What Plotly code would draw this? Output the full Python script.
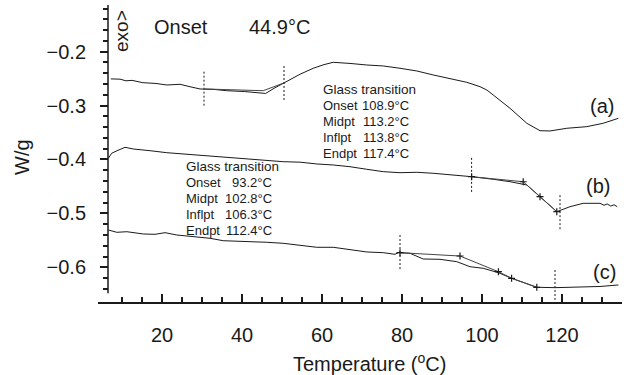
import plotly.graph_objects as go

# DSC heat-flow curves (W/g) vs temperature (°C)
t_a = [7.2, 9.5, 11.0, 12.5, 15.2, 18.5, 21.2, 24.5, 27.0, 29.5, 33.0, 36.2, 40.7, 43.5,
       45.9, 48.0, 50.7, 54.5, 57.8, 60.5, 62.8, 65.0, 67.0, 71.2, 75.3, 79.5, 83.7, 87.8,
       92.0, 96.2, 99.5, 101.2, 102.8, 105.3, 107.0, 111.2, 114.5, 117.0, 121.2, 126.2,
       130.3, 134.1]
w_a = [-0.2505, -0.2510, -0.2540, -0.2532, -0.2575, -0.2590, -0.2618, -0.2605, -0.2650,
       -0.2692, -0.2700, -0.2724, -0.2740, -0.2755, -0.2775, -0.2680, -0.2575, -0.2419,
       -0.2308, -0.2240, -0.2197, -0.2205, -0.2218, -0.2247, -0.2265, -0.2308, -0.2358,
       -0.2432, -0.2494, -0.2568, -0.2649, -0.2711, -0.2803, -0.2957, -0.3050, -0.3328,
       -0.3466, -0.3471, -0.3421, -0.3391, -0.3328, -0.3236]

t_b = [6.6, 7.4, 9.0, 10.75, 12.8, 15.0, 17.0, 21.2, 25.3, 29.5, 33.7, 37.8, 42.0, 46.2,
       50.3, 54.5, 56.6, 58.7, 62.8, 67.0, 71.2, 75.3, 79.5, 83.7, 87.8, 92.0, 97.4, 102.8,
       107.0, 111.2, 114.5, 118.7, 122.0, 125.3, 129.5, 130.5, 131.3, 132.2, 133.0, 133.8]
w_b = [-0.3978, -0.3885, -0.3830, -0.3774, -0.3805, -0.3815, -0.3837, -0.3874, -0.3898,
       -0.3917, -0.3948, -0.3978, -0.3996, -0.4022, -0.4041, -0.4050, -0.4071, -0.4083,
       -0.4102, -0.4134, -0.4182, -0.4226, -0.4245, -0.4238, -0.4256, -0.4282, -0.4319,
       -0.4367, -0.4412, -0.4473, -0.4690, -0.4968, -0.4876, -0.4813, -0.4813, -0.4850,
       -0.4825, -0.4865, -0.4840, -0.4876]

t_c = [6.6, 8.7, 11.2, 15.3, 18.25, 20.75, 23.7, 27.8, 32.0, 35.3, 37.8, 42.0, 46.2, 50.3,
       54.5, 58.7, 62.8, 67.0, 71.2, 75.3, 78.25, 79.1, 82.0, 85.3, 89.5, 93.7, 97.0, 100.3,
       104.1, 107.4, 113.7, 118.25, 125.3, 129.5, 134.1]
w_c = [-0.5308, -0.5351, -0.5340, -0.5382, -0.5388, -0.5358, -0.5401, -0.5432, -0.5462,
       -0.5507, -0.5512, -0.5525, -0.5536, -0.5555, -0.5586, -0.5629, -0.5629, -0.5666,
       -0.5716, -0.5729, -0.5759, -0.5729, -0.5740, -0.5846, -0.5852, -0.5896, -0.5989,
       -0.6019, -0.6100, -0.6204, -0.6371, -0.6378, -0.6371, -0.6356, -0.6328]

# Tangent constructions of the transition analysis
tan_a_t = [30.7, 45.3, 50.7]
tan_a_w = [-0.2692, -0.2724, -0.2575]
tan_b_t = [97.4, 110.3, 114.5, 118.7]
tan_b_w = [-0.4319, -0.4413, -0.4690, -0.4968]
tan_c_t = [79.5, 94.5, 104.1, 107.4, 113.7]
tan_c_w = [-0.5729, -0.5791, -0.6082, -0.6204, -0.6371]

# Vertical limit markers: temperature, upper and lower W/g
limit_t = [30.5, 50.5, 97.4, 119.5, 79.5, 118.25]
limit_top = [-0.2371, -0.2265, -0.3970, -0.4662, -0.5402, -0.6050]
limit_bot = [-0.3032, -0.2915, -0.4626, -0.5310, -0.6065, -0.6605]

x_major = [20, 40, 60, 80, 100, 120]
x_minor = [10, 15, 25, 30, 35, 45, 50, 55, 65, 70, 75, 85, 90, 95, 105, 110, 115, 125, 130]
y_major = [-0.6, -0.5, -0.4, -0.3, -0.2]
y_minor = [-0.64, -0.62, -0.58, -0.56, -0.54, -0.52, -0.48, -0.46, -0.44, -0.42,
           -0.38, -0.36, -0.34, -0.32, -0.28, -0.26, -0.24, -0.22, -0.18, -0.16,
           -0.14, -0.12]

glass_keys = ["Onset", "Midpt", "Inflpt", "Endpt"]
glass_a = ["108.9°C", "113.2°C", "113.8°C", "117.4°C"]
glass_b = ["93.2°C", "102.8°C", "106.3°C", "112.4°C"]

FONT = "Liberation Sans, Arial, sans-serif"
INK = "#1a1a1a"

L, R, T, B = 98, 11, 5, 73
W, H = 633, 375
X_RANGE = [4, 135]
Y_RANGE = [-0.6644, -0.1134]
Y_AXIS_T = 6.5
Y_AXIS_BOTTOM = -0.648
SMALL = 13


def px(xp):
    return (xp - L) / (W - L - R)


def py(yp):
    return (H - B - yp) / (H - B - T)


fig = go.Figure()

for tt, ww in [(t_a, w_a), (t_b, w_b), (t_c, w_c)]:
    fig.add_trace(go.Scatter(x=tt, y=ww, mode="lines",
                             line=dict(color=INK, width=1), hoverinfo="skip"))

for tt, ww, show in [(tan_a_t, tan_a_w, False), (tan_b_t, tan_b_w, True), (tan_c_t, tan_c_w, True)]:
    fig.add_trace(go.Scatter(
        x=tt, y=ww, mode="lines+markers" if show else "lines",
        line=dict(color="#444444", width=1),
        marker=dict(symbol="cross-thin", size=5, line=dict(color=INK, width=1.2)),
        hoverinfo="skip"))

for t0, y0, y1 in zip(limit_t, limit_top, limit_bot):
    fig.add_trace(go.Scatter(x=[t0, t0], y=[y0, y1], mode="lines",
                             line=dict(color=INK, width=1, dash="2px,2px"),
                             hoverinfo="skip"))

# y axis line (stops short of the temperature axis)
fig.add_shape(type="line", xref="x", yref="y", x0=Y_AXIS_T, x1=Y_AXIS_T,
              y0=Y_AXIS_BOTTOM, y1=Y_RANGE[1], line=dict(color=INK, width=1.5))

ann = []


def text(x, y, s, size=SMALL, xanchor="left", angle=0):
    ann.append(dict(x=px(x), y=py(y), xref="paper", yref="paper", text=s,
                    showarrow=False, xanchor=xanchor, yanchor="middle",
                    textangle=angle, font=dict(family=FONT, size=size, color=INK)))


text(152, 27, "Onset", size=20)
text(312, 27, "44.9°C", size=20, xanchor="right")
text(121, 31, "exo>", size=19, xanchor="center", angle=-90)
text(22, 157, "W/g", size=20, xanchor="center", angle=-90)
text(369, 362, "Temperature (<sup>o</sup>C)", size=20, xanchor="center")

text(602, 106, "(a)", size=20, xanchor="center")
text(598, 186, "(b)", size=20, xanchor="center")
text(604, 272, "(c)", size=20, xanchor="center")

text(321, 89, "Glass transition", size=13.5)
for i, (k, v) in enumerate(zip(glass_keys, glass_a)):
    text(321, 105 + 16 * i, k)
    text(411, 105 + 16 * i, v, xanchor="right")

text(184, 166, "Glass transition", size=13.5)
for i, (k, v) in enumerate(zip(glass_keys, glass_b)):
    text(184, 182 + 16 * i, k)
    text(274, 182 + 16 * i, v, xanchor="right")

fig.update_layout(
    width=W, height=H,
    margin=dict(l=L, r=R, t=T, b=B),
    paper_bgcolor="white", plot_bgcolor="white",
    showlegend=False,
    annotations=ann,
    xaxis=dict(range=X_RANGE, showgrid=False, zeroline=False,
               showline=True, linecolor=INK, linewidth=1.5,
               ticks="inside", ticklen=8, tickwidth=1.5, tickcolor=INK,
               tickmode="array", tickvals=x_major,
               ticktext=[str(v) for v in x_major],
               ticklabelstandoff=14,
               tickfont=dict(family=FONT, size=20, color=INK),
               minor=dict(tickmode="array", tickvals=x_minor, ticks="inside",
                          ticklen=5, tickwidth=1.5, tickcolor=INK)),
    yaxis=dict(range=Y_RANGE, showgrid=False, zeroline=False, showline=False,
               anchor="free", position=px(108),
               ticks="outside", ticklen=8, tickwidth=1.5, tickcolor=INK,
               tickmode="array", tickvals=y_major,
               ticktext=[f"−{abs(v):.1f}" for v in y_major],
               ticklabelstandoff=10,
               tickfont=dict(family=FONT, size=20, color=INK),
               minor=dict(tickmode="array", tickvals=y_minor, ticks="outside",
                          ticklen=5, tickwidth=1.5, tickcolor=INK)),
)

fig.write_html("out.html")
